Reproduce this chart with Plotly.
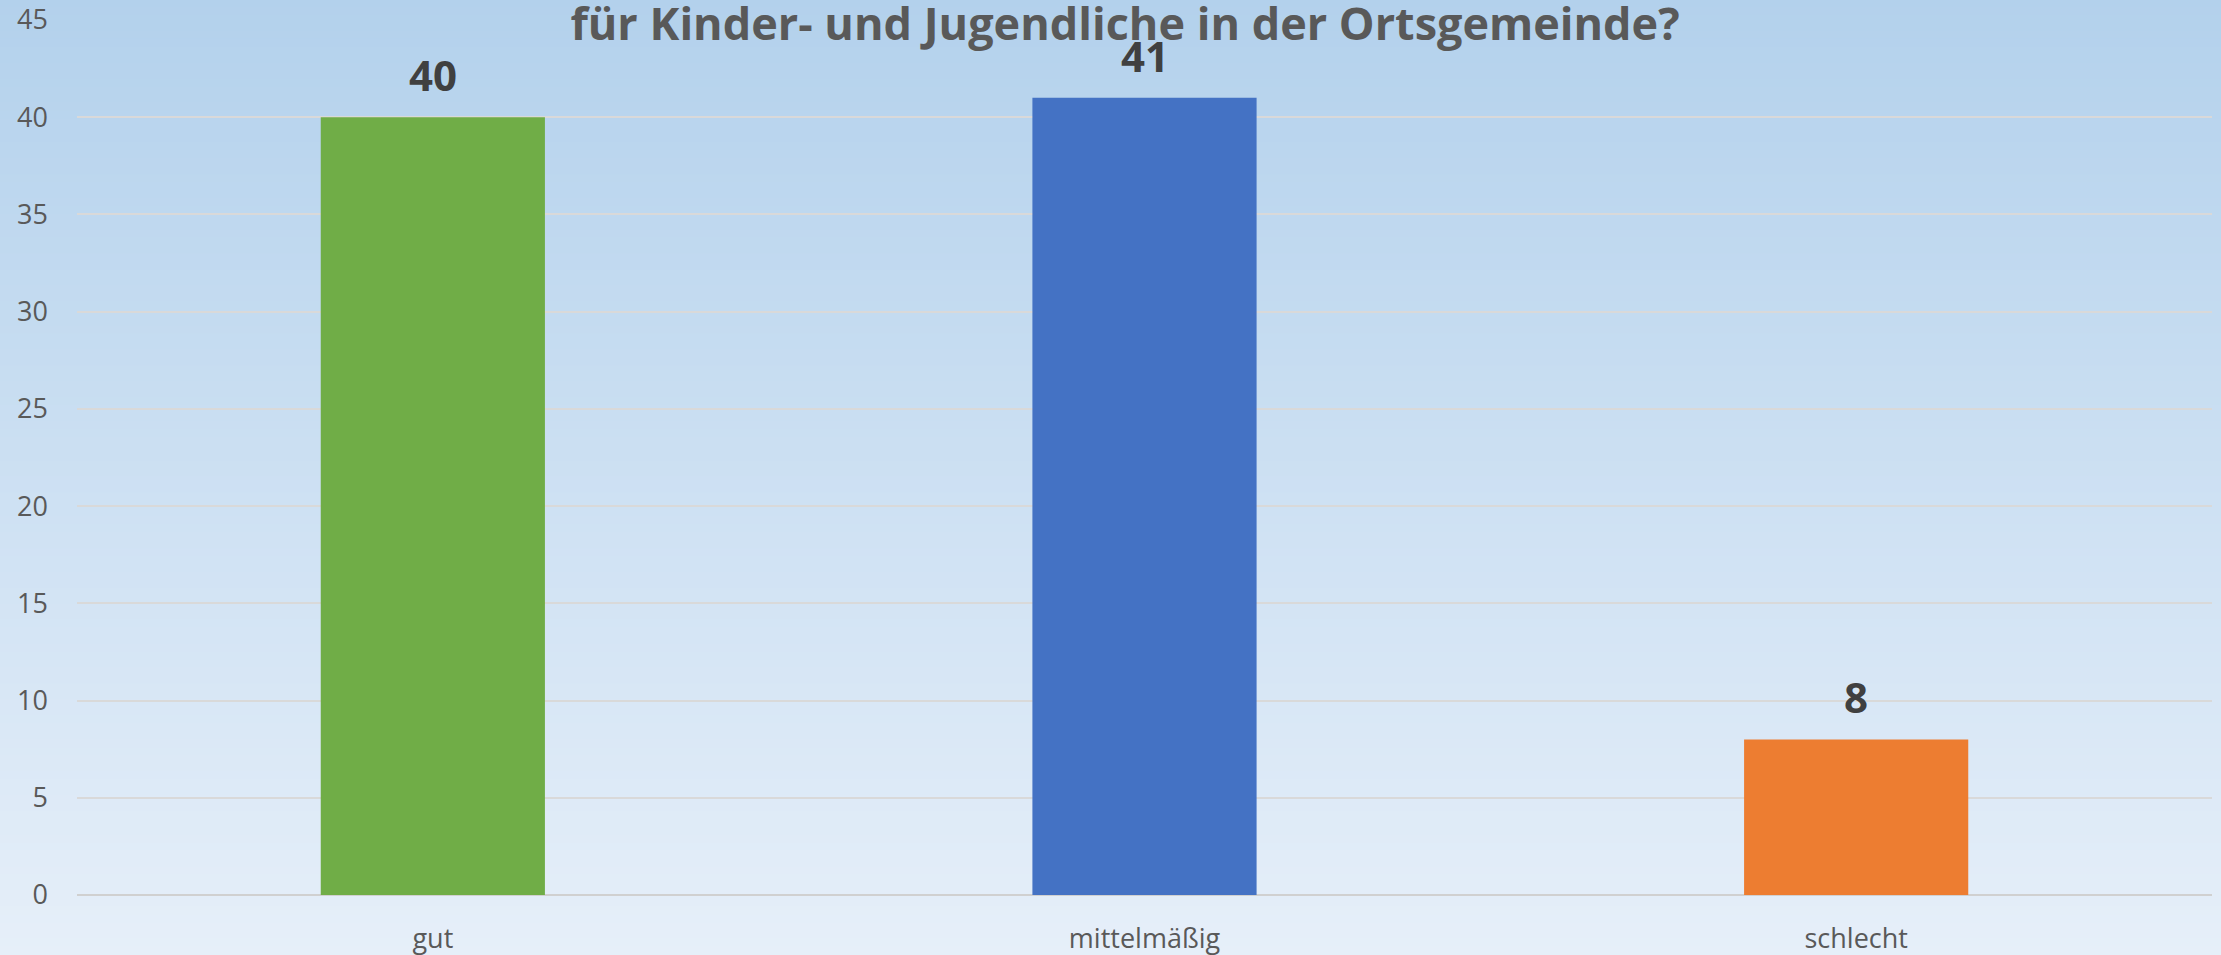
import plotly.graph_objects as go

categories = ["gut", "mittelmäßig", "schlecht"]
values = [40, 41, 8]
bar_colors = ["#70ad47", "#4472c4", "#ed7d31"]
y_ticks = [0, 5, 10, 15, 20, 25, 30, 35, 40, 45]
title_text = "für Kinder- und Jugendliche in der Ortsgemeinde?"

W, H = 2221, 955
ML, MR, MT, MB = 77, 9, 20, 60

# background gradient (style only): top and bottom colours
BG_TOP = (179, 209, 236)
BG_BOT = (230, 239, 249)
N_BANDS = 120

shapes = []
for i in range(N_BANDS):
    t = (i + 0.5) / N_BANDS
    col = tuple(round(BG_TOP[k] + (BG_BOT[k] - BG_TOP[k]) * t) for k in range(3))
    y1 = 1 - i / N_BANDS + 0.001
    y0 = 1 - (i + 1) / N_BANDS - 0.002
    shapes.append(dict(
        type="rect", xref="paper", yref="paper", layer="below",
        x0=-0.1, x1=1.1, y0=(y0 * H - MB) / (H - MT - MB),
        y1=(y1 * H - MB) / (H - MT - MB),
        fillcolor=f"rgb{col}", line=dict(width=0),
    ))

fig = go.Figure()
fig.add_trace(go.Bar(
    x=categories, y=values, marker=dict(color=bar_colors, line=dict(width=0)),
    hoverinfo="x+y",
))

for c, v in zip(categories, values):
    fig.add_annotation(
        x=c, y=v, text=str(v), showarrow=False, yanchor="bottom", yshift=12,
        font=dict(family="Open Sans", size=42, color="#404040", weight="bold"),
    )

fig.update_layout(
    width=W, height=H,
    margin=dict(l=ML, r=MR, t=MT, b=MB, pad=0, autoexpand=False),
    paper_bgcolor="#cfe1f3",
    plot_bgcolor="rgba(0,0,0,0)",
    bargap=0.685,
    showlegend=False,
    shapes=shapes,
    title=dict(
        text=title_text, x=1125 / W, xanchor="center", y=1 - 24 / H,
        yanchor="middle", xref="container", yref="container",
        font=dict(family="Open Sans", size=45, color="#595959", weight="bold"),
    ),
    xaxis=dict(
        showgrid=False, showline=False, zeroline=False, ticks="",
        automargin=False,
        tickfont=dict(family="Open Sans", size=27, color="#595959"),
        ticklabelstandoff=25,
    ),
    yaxis=dict(
        range=[0, 45], tickvals=y_ticks, showgrid=True, gridcolor="#d9d9d9",
        gridwidth=2, zeroline=True, zerolinecolor="#d0d0d0", zerolinewidth=2,
        showline=False, ticks="", automargin=False,
        tickfont=dict(family="Open Sans", size=27, color="#595959"),
        ticklabelstandoff=28,
    ),
)

fig.write_html(
    "out.html",
    config={"displayModeBar": False},
    post_script="document.body.style.margin='0';document.body.style.padding='0';document.body.style.overflow='hidden';",
)
